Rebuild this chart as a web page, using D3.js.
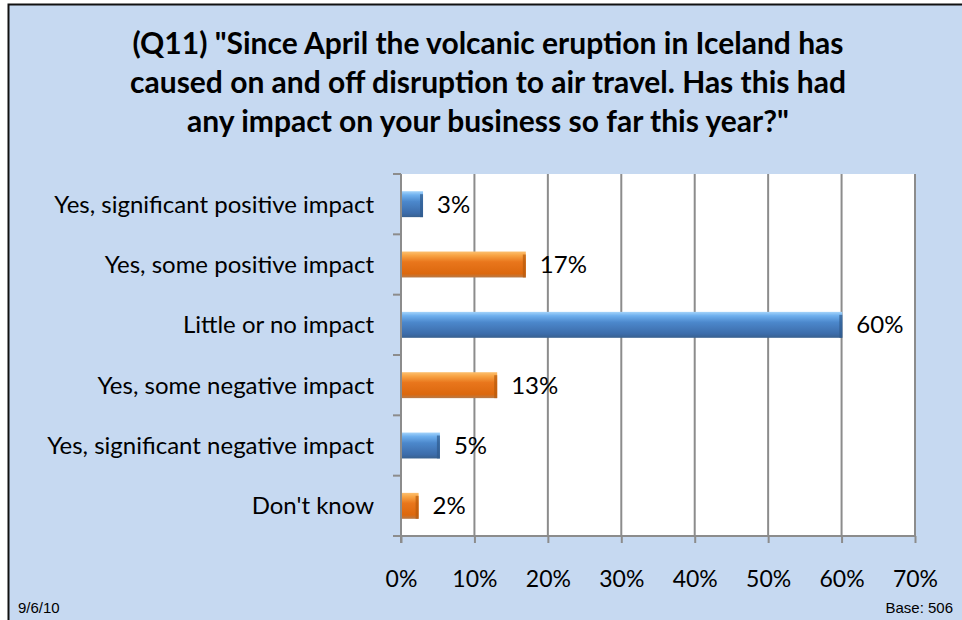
<!DOCTYPE html>
<html>
<head>
<meta charset="utf-8">
<script src="https://cdn.jsdelivr.net/npm/d3@7"></script>
<style>
    body { margin: 0; background: #ffffff; }
    svg { display: block; }
    text { font-family: Lato, "Open Sans", sans-serif; fill: #000; }
</style>
</head>
<body>
<svg id="chart"></svg>
<script>
// chart data
const categories = [
    "Yes, significant positive impact",
    "Yes, some positive impact",
    "Little or no impact",
    "Yes, some negative impact",
    "Yes, significant negative impact",
    "Don't know"
];
const values = [3.0, 17.0, 60.1, 13.1, 5.3, 2.4];
const seriesColor = ["blue", "orange", "blue", "orange", "blue", "orange"];
const xTicks = [0, 10, 20, 30, 40, 50, 60, 70];
const titleLines = [
    "(Q11) \"Since April the volcanic eruption in Iceland has",
    "caused on and off disruption to air travel. Has this had",
    "any impact on your business so far this year?\""
];
const footLeft = "9/6/10";
const footRight = "Base: 506";

const drawChart = function () {
    const width = 962;
    const height = 620;
    const BG = "#c6d9f1";
    const GRID = "#8c8c8c";
    const plot = {left: 401, right: 915, top: 174, bottom: 536};

    const svg = d3.select("#chart")
        .attr("width", width)
        .attr("height", height);

    // gradients for the bevelled bars
    const defs = svg.append("defs");
    const stops = {
        blue: [["0%", "#a4d4fb"], ["15%", "#6fb0ee"], ["40%", "#4c88cc"], ["85%", "#3c6caa"], ["100%", "#38608e"]],
        orange: [["0%", "#fdc070"], ["15%", "#f8a444"], ["40%", "#e9761c"], ["85%", "#dc680e"], ["100%", "#b87a48"]]
    };
    Object.keys(stops).forEach(function (k) {
        const g = defs.append("linearGradient")
            .attr("id", "grad-" + k)
            .attr("x1", 0).attr("y1", 0).attr("x2", 0).attr("y2", 1);
        g.selectAll("stop")
            .data(stops[k])
            .enter().append("stop")
            .attr("offset", d => d[0])
            .attr("stop-color", d => d[1]);
    });
    const edgeColor = {blue: "#2f5a8c", orange: "#b85a0c"};

    // background + frame
    svg.append("rect")
        .attr("x", 0).attr("y", 0)
        .attr("width", width).attr("height", height)
        .attr("fill", "#ffffff");
    svg.append("rect")
        .attr("x", 8.5).attr("y", 4.5)
        .attr("width", width + 10).attr("height", height + 10)
        .attr("fill", BG)
        .attr("stroke", "#111")
        .attr("stroke-width", 2);

    // title
    svg.append("g")
        .selectAll("text")
        .data(titleLines)
        .enter().append("text")
        .attr("x", 488)
        .attr("y", (d, i) => 54 + i * 39)
        .attr("text-anchor", "middle")
        .style("font-size", "30px")
        .style("font-weight", "bold")
        .text(d => d);

    const x = d3.scaleLinear()
        .domain([0, 70])
        .range([plot.left, plot.right]);

    const y = d3.scaleBand()
        .domain(categories)
        .range([plot.top, plot.bottom])
        .paddingInner(0.57)
        .paddingOuter(0.285);

    // plot area
    svg.append("rect")
        .attr("x", plot.left).attr("y", plot.top)
        .attr("width", plot.right - plot.left)
        .attr("height", plot.bottom - plot.top)
        .attr("fill", "#ffffff");

    // vertical gridlines
    svg.append("g")
        .selectAll("line")
        .data(xTicks.slice(1))
        .enter().append("line")
        .attr("x1", d => x(d)).attr("x2", d => x(d))
        .attr("y1", plot.top).attr("y2", plot.bottom)
        .attr("stroke", GRID)
        .attr("stroke-width", 2);

    // x axis
    const xAxis = svg.append("g")
        .attr("transform", `translate(0, ${plot.bottom})`)
        .call(d3.axisBottom(x)
            .tickValues(xTicks)
            .tickSize(7)
            .tickPadding(28)
            .tickFormat(d => d + "%"));
    xAxis.select(".domain")
        .attr("stroke", GRID)
        .attr("stroke-width", 2)
        .attr("d", `M${plot.left - 1},0H${plot.right + 1}`);
    xAxis.selectAll(".tick line").attr("stroke", GRID).attr("stroke-width", 2);
    xAxis.selectAll(".tick text")
        .style("font-size", "23px")
        .attr("fill", "#000");

    // y axis: ticks at band boundaries
    const step = y.step();
    const boundaries = d3.range(categories.length + 1).map(i => plot.top + i * step);
    svg.append("g")
        .selectAll("line")
        .data(boundaries)
        .enter().append("line")
        .attr("x1", plot.left - 8).attr("x2", plot.left)
        .attr("y1", d => d).attr("y2", d => d)
        .attr("stroke", GRID)
        .attr("stroke-width", 2);
    svg.append("line")
        .attr("x1", plot.left).attr("x2", plot.left)
        .attr("y1", plot.top).attr("y2", plot.bottom + 7)
        .attr("stroke", GRID)
        .attr("stroke-width", 2);

    // category labels
    svg.append("g")
        .selectAll("text")
        .data(categories)
        .enter().append("text")
        .attr("x", 374)
        .attr("y", d => y(d) + y.bandwidth() / 2)
        .attr("dy", "0.36em")
        .attr("text-anchor", "end")
        .style("font-size", "24px")
        .text(d => d);

    // bars
    const bars = svg.append("g")
        .selectAll("g")
        .data(categories)
        .enter().append("g");
    bars.append("rect")
        .attr("x", x(0) + 1)
        .attr("y", d => y(d))
        .attr("width", (d, i) => x(values[i]) - x(0) - 1)
        .attr("height", y.bandwidth())
        .attr("fill", (d, i) => "url(#grad-" + seriesColor[i] + ")");
    bars.append("rect")
        .attr("x", (d, i) => x(values[i]) - 3)
        .attr("y", d => y(d) + 3)
        .attr("width", 3)
        .attr("height", y.bandwidth() - 3)
        .attr("fill", (d, i) => edgeColor[seriesColor[i]])
        .attr("opacity", 0.7);

    // value labels
    bars.append("text")
        .attr("x", (d, i) => x(values[i]) + 14)
        .attr("y", d => y(d) + y.bandwidth() / 2)
        .attr("dy", "0.36em")
        .style("font-size", "24px")
        .text((d, i) => Math.round(values[i]) + "%");

    // footer
    svg.append("text")
        .attr("x", 18).attr("y", 613)
        .style("font-family", "'Liberation Sans', Arial, sans-serif")
        .style("font-size", "15px")
        .text(footLeft);
    svg.append("text")
        .attr("x", 953).attr("y", 613)
        .attr("text-anchor", "end")
        .style("font-family", "'Liberation Sans', Arial, sans-serif")
        .style("font-size", "15px")
        .text(footRight);
};

drawChart();
</script>
</body>
</html>
